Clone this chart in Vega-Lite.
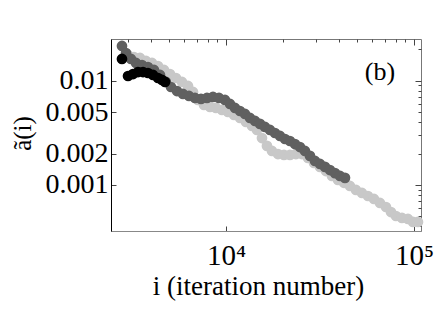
{
  "$schema": "https://vega.github.io/schema/vega-lite/v6.json",
  "autosize": {"type": "none"},
  "padding": {"left": 111, "top": 39, "right": 15, "bottom": 79},
  "width": 310,
  "height": 192,
  "background": "white",
  "config": {"view": {"stroke": "#777", "strokeWidth": 1}, "font": "Liberation Serif"},
  "datasets": {
    "pts": [
      {"s":"light","i":3012,"d":0.01762},{"s":"light","i":3240,"d":0.01687},{"s":"light","i":3488,"d":0.01652},{"s":"light","i":3754,"d":0.01545},{"s":"light","i":4041,"d":0.01478},{"s":"light","i":4349,"d":0.01383},{"s":"light","i":4681,"d":0.01267},{"s":"light","i":5037,"d":0.01158},{"s":"light","i":5420,"d":0.01061},{"s":"light","i":5834,"d":0.00972},{"s":"light","i":6281,"d":0.0089},{"s":"light","i":6677,"d":0.0078},{"s":"light","i":7098,"d":0.00653},{"s":"light","i":7638,"d":0.00585},{"s":"light","i":8220,"d":0.0056},{"s":"light","i":8846,"d":0.00548},{"s":"light","i":9521,"d":0.00524},{"s":"light","i":10247,"d":0.00501},{"s":"light","i":11030,"d":0.00469},{"s":"light","i":11870,"d":0.00439},{"s":"light","i":12777,"d":0.00402},{"s":"light","i":13752,"d":0.00368},{"s":"light","i":14616,"d":0.00337},{"s":"light","i":15541,"d":0.00282},{"s":"light","i":16521,"d":0.00237},{"s":"light","i":17567,"d":0.00212},{"s":"light","i":18906,"d":0.00198},{"s":"light","i":20350,"d":0.00194},{"s":"light","i":21892,"d":0.00194},{"s":"light","i":23566,"d":0.00198},{"s":"light","i":25365,"d":0.00198},{"s":"light","i":27300,"d":0.00182},{"s":"light","i":29383,"d":0.00163},{"s":"light","i":31623,"d":0.00149},{"s":"light","i":34030,"d":0.00136},{"s":"light","i":36630,"d":0.00122},{"s":"light","i":39420,"d":0.00112},{"s":"light","i":42440,"d":0.00105},{"s":"light","i":45650,"d":0.000978},{"s":"light","i":49150,"d":0.000896},{"s":"light","i":52890,"d":0.000838},{"s":"light","i":56920,"d":0.000784},{"s":"light","i":61270,"d":0.000734},{"s":"light","i":65940,"d":0.000672},{"s":"light","i":70970,"d":0.000615},{"s":"light","i":75450,"d":0.00055},{"s":"light","i":80220,"d":0.000504},{"s":"light","i":86340,"d":0.000483},{"s":"light","i":92920,"d":0.000472},{"s":"light","i":98790,"d":0.000442},{"s":"light","i":105030,"d":0.000442},
      {"s":"dark","i":2797,"d":0.02153},{"s":"dark","i":2939,"d":0.01843},{"s":"dark","i":3124,"d":0.01615},{"s":"dark","i":3321,"d":0.01478},{"s":"dark","i":3575,"d":0.01414},{"s":"dark","i":3847,"d":0.01353},{"s":"dark","i":4140,"d":0.01267},{"s":"dark","i":4457,"d":0.01134},{"s":"dark","i":4797,"d":0.00972},{"s":"dark","i":5099,"d":0.0087},{"s":"dark","i":5487,"d":0.00796},{"s":"dark","i":5905,"d":0.00746},{"s":"dark","i":6358,"d":0.00714},{"s":"dark","i":6842,"d":0.00683},{"s":"dark","i":7362,"d":0.00668},{"s":"dark","i":7923,"d":0.00683},{"s":"dark","i":8528,"d":0.00698},{"s":"dark","i":9179,"d":0.00683},{"s":"dark","i":9878,"d":0.00653},{"s":"dark","i":10502,"d":0.00598},{"s":"dark","i":11166,"d":0.00548},{"s":"dark","i":11870,"d":0.00512},{"s":"dark","i":12621,"d":0.0048},{"s":"dark","i":13417,"d":0.00439},{"s":"dark","i":14266,"d":0.00411},{"s":"dark","i":15164,"d":0.00385},{"s":"dark","i":16120,"d":0.0036},{"s":"dark","i":17140,"d":0.00337},{"s":"dark","i":18223,"d":0.00315},{"s":"dark","i":19377,"d":0.00295},{"s":"dark","i":20600,"d":0.00276},{"s":"dark","i":21892,"d":0.00264},{"s":"dark","i":23280,"d":0.00247},{"s":"dark","i":24750,"d":0.00231},{"s":"dark","i":26312,"d":0.00212},{"s":"dark","i":27972,"d":0.0019},{"s":"dark","i":29744,"d":0.0017},{"s":"dark","i":31623,"d":0.00159},{"s":"dark","i":33620,"d":0.00149},{"s":"dark","i":35743,"d":0.00139},{"s":"dark","i":38000,"d":0.0013},{"s":"dark","i":40400,"d":0.00122},{"s":"dark","i":42955,"d":0.00117},
      {"s":"black","i":2797,"d":0.01615},{"s":"black","i":3012,"d":0.01109},{"s":"black","i":3201,"d":0.01158},{"s":"black","i":3403,"d":0.0121},{"s":"black","i":3619,"d":0.0121},{"s":"black","i":3847,"d":0.01185},{"s":"black","i":4091,"d":0.01134},{"s":"black","i":4349,"d":0.01061},{"s":"black","i":4568,"d":0.01016},{"s":"black","i":4739,"d":0.00972}
    ],
    "lab": [{"x": 65940, "y": 0.0121, "t": "(b)"}]
  },
  "layer": [
    {
      "data": {"name": "pts"},
      "mark": {"type": "circle", "size": 115, "opacity": 1},
      "encoding": {
        "x": {"field": "i", "type": "quantitative",
          "scale": {"type": "log", "domain": [2445, 109000], "nice": false},
          "axis": {"orient": "bottom", "values": [10000, 100000],
            "labelExpr": "datum.value >= 100000 ? '10⁵' : '10⁴'",
            "tickSize": -5, "tickColor": "#444", "domainColor": "#888", "grid": false,
            "labelFont": "Liberation Serif", "labelFontSize": 29, "labelColor": "#000", "labelPadding": 15, "labelFlush": false,
            "title": "i (iteration number)", "titleFont": "Liberation Serif", "titleFontSize": 27, "titleFontWeight": "normal", "titleColor": "#000",
            "titleX": 147, "titleY": 63, "titleBaseline": "alphabetic", "titleAlign": "center"}},
        "y": {"field": "d", "type": "quantitative",
          "scale": {"type": "log", "domain": [0.000362, 0.0251], "nice": false},
          "axis": {"orient": "left", "values": [0.001, 0.002, 0.005, 0.01],
            "labelExpr": "toString(datum.value)",
            "tickSize": -5, "tickColor": "#444", "domainColor": "#000", "grid": false,
            "labelFont": "Liberation Serif", "labelFontSize": 28, "labelColor": "#000", "labelPadding": 8, "labelFlush": false,
            "title": "ã(i)", "titleFont": "Liberation Serif", "titleFontSize": 25, "titleFontWeight": "normal", "titleColor": "#000",
            "titleX": -89, "titleY": 94, "titleBaseline": "middle", "titleAlign": "center", "titleAngle": -90}},
        "color": {"field": "s", "type": "nominal",
          "scale": {"domain": ["light", "dark", "black"], "range": ["#c8c8c8", "#606060", "#000000"]}, "legend": null}
      }
    },
    {
      "data": {"name": "pts"},
      "mark": {"type": "circle", "opacity": 0},
      "encoding": {
        "x": {"field": "i", "type": "quantitative",
          "axis": {"orient": "top", "values": [3000, 4000, 5000, 6000, 7000, 8000, 9000, 10000, 20000, 30000, 40000, 50000, 60000, 70000, 80000, 90000, 100000],
            "labels": false, "domain": false, "grid": false, "title": null, "tickColor": "#444",
            "tickSize": {"condition": {"test": "datum.value == 10000 || datum.value == 100000", "value": -6}, "value": -3}}},
        "y": {"field": "d", "type": "quantitative",
          "axis": {"orient": "right", "values": [0.0004, 0.0005, 0.0006, 0.0007, 0.0008, 0.0009, 0.001, 0.002, 0.003, 0.004, 0.005, 0.006, 0.007, 0.008, 0.009, 0.01, 0.02],
            "labels": false, "domain": false, "grid": false, "title": null, "tickColor": "#444",
            "tickSize": {"condition": {"test": "datum.value == 0.001 || datum.value == 0.01", "value": -6}, "value": -3}}}
      }
    },
    {
      "data": {"name": "lab"},
      "mark": {"type": "text", "font": "Liberation Serif", "fontSize": 26, "color": "#000"},
      "encoding": {
        "x": {"field": "x", "type": "quantitative", "axis": null},
        "y": {"field": "y", "type": "quantitative", "axis": null},
        "text": {"field": "t"}
      }
    }
  ],
  "resolve": {"axis": {"x": "independent", "y": "independent"}}
}
